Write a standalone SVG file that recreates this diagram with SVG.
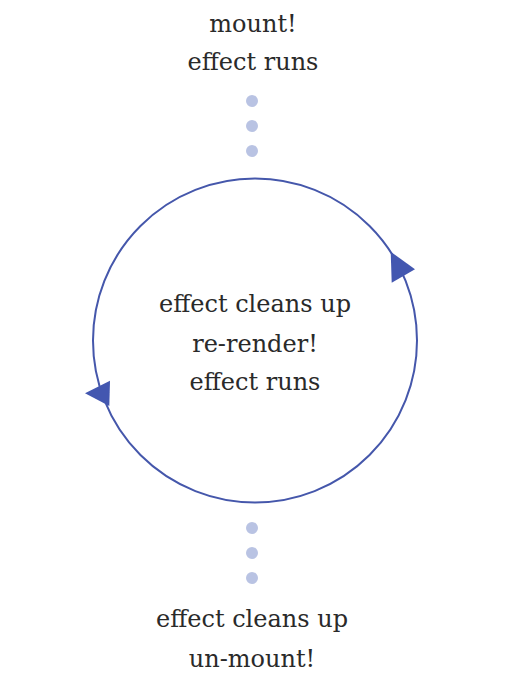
<svg xmlns="http://www.w3.org/2000/svg" width="513" height="683" viewBox="0 0 513 683">
<style>
text{font-family:"DejaVu Serif",serif;font-size:24px;fill:#2a2a2a;text-anchor:middle}
.dot{fill:#b9c3e3}
.arr{fill:#4357b0}
</style>
<rect width="513" height="683" fill="#fff"/>
<g id="mount">
<text x="253" y="32">mount!</text>
<text x="253" y="70">effect runs</text>
</g>
<g id="cycle">
<circle cx="255" cy="340.5" r="162" fill="none" stroke="#4557ab" stroke-width="2"/>
<text x="255" y="312">effect cleans up</text>
<text x="255" y="352">re-render!</text>
<text x="255" y="390">effect runs</text>
</g>
<g id="unmount">
<text x="252" y="627">effect cleans up</text>
<text x="252" y="667">un-mount!</text>
</g>
<g id="connectors">
<circle class="dot" cx="252" cy="101" r="6"/>
<circle class="dot" cx="252" cy="126" r="6"/>
<circle class="dot" cx="252" cy="151" r="6"/>
<circle class="dot" cx="252" cy="528" r="6"/>
<circle class="dot" cx="252" cy="553" r="6"/>
<circle class="dot" cx="252" cy="578" r="6"/>
<polygon class="arr" points="390.7,251.7 415,269.3 391.7,282.7"/>
<polygon class="arr" points="110,380.7 85,393.3 109.3,406"/>
</g>
</svg>
